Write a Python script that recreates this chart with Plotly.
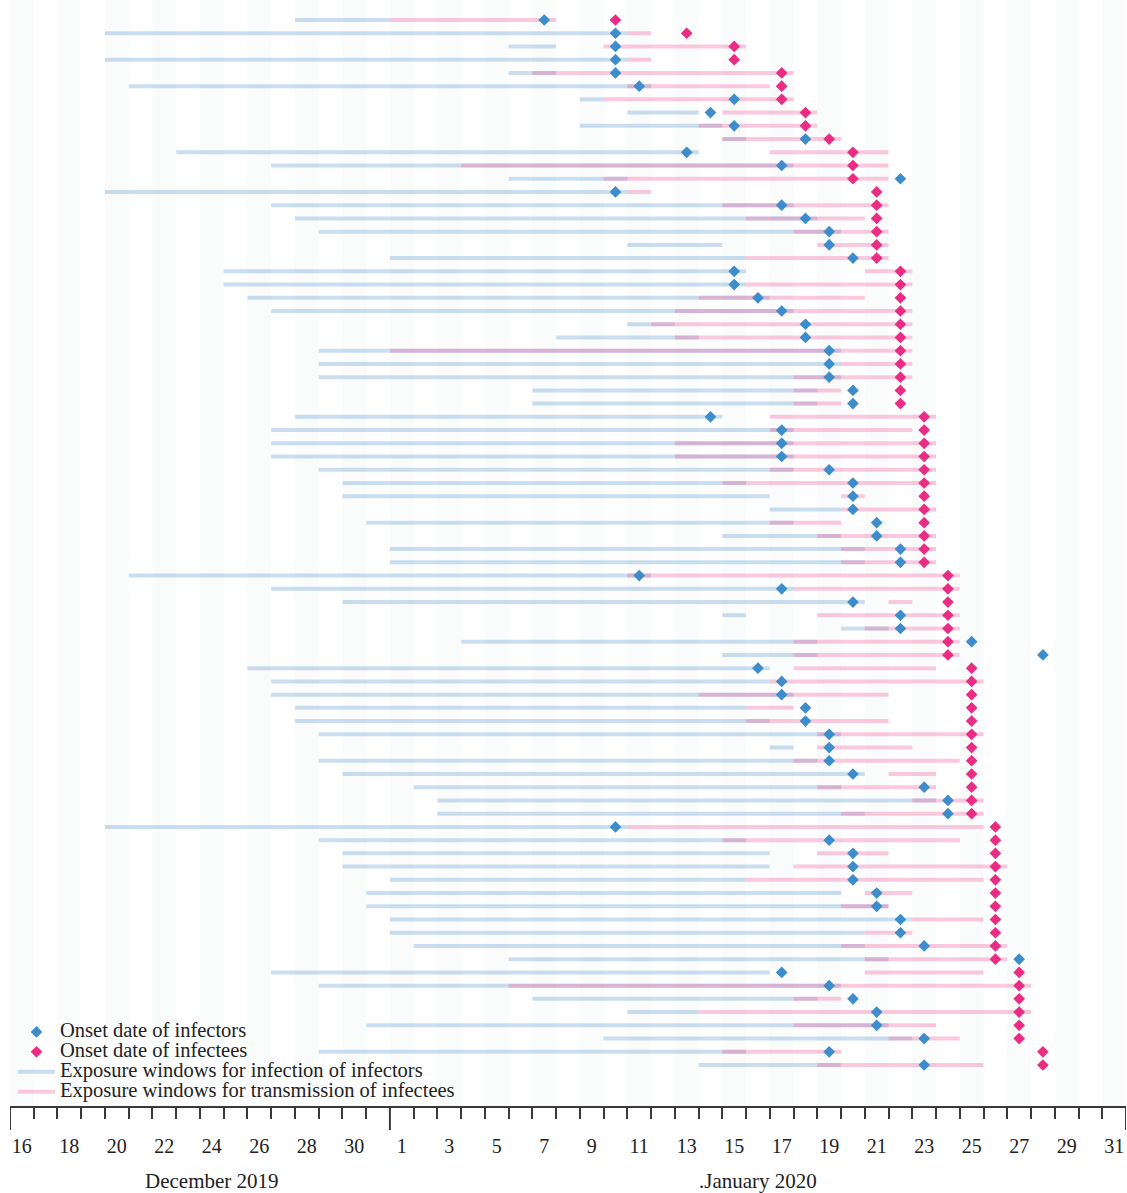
import pandas as pd
import plotly.graph_objects as go

# ---------------- data (month-day; December = 2019, January = 2020) ----------------
infector_exposure_start = [
    "12-28", "12-20", "01-06", "12-20", "01-06", "12-21", "01-09", "01-11", "01-09", "01-15",
    "12-23", "12-27", "01-06", "12-20", "12-27", "12-28", "12-29", "01-11", "01-01", "12-25",
    "12-25", "12-26", "12-27", "01-11", "01-08", "12-29", "12-29", "12-29", "01-07", "01-07",
    "12-28", "12-27", "12-27", "12-27", "12-29", "12-30", "12-30", "01-17", "12-31", "01-15",
    "01-01", "01-01", "12-21", "12-27", "12-30", "01-15", "01-20", "01-04", "01-15", "12-26",
    "12-27", "12-27", "12-28", "12-28", "12-29", "01-17", "12-29", "12-30", "01-02", "01-03",
    "01-03", "12-20", "12-29", "12-30", "12-30", "01-01", "12-31", "12-31", "01-01", "01-01",
    "01-02", "01-06", "12-27", "12-29", "01-07", "01-11", "12-31", "01-10", "12-29", "01-14",
]
infector_exposure_end = [
    "12-31", "01-10", "01-07", "01-10", "01-07", "01-11", "01-09", "01-13", "01-14", "01-15",
    "01-13", "01-17", "01-10", "01-10", "01-17", "01-18", "01-19", "01-14", "01-15", "01-15",
    "01-15", "01-16", "01-17", "01-12", "01-13", "01-19", "01-19", "01-19", "01-18", "01-18",
    "01-14", "01-17", "01-17", "01-17", "01-17", "01-15", "01-16", "01-19", "01-17", "01-19",
    "01-20", "01-20", "01-11", "01-17", "01-20", "01-15", "01-21", "01-18", "01-18", "01-16",
    "01-16", "01-17", "01-15", "01-16", "01-19", "01-17", "01-18", "01-20", "01-19", "01-23",
    "01-20", "01-10", "01-15", "01-16", "01-16", "01-15", "01-19", "01-21", "01-22", "01-20",
    "01-20", "01-21", "01-16", "01-19", "01-18", "01-13", "01-21", "01-22", "01-15", "01-19",
]
transmission_start = [
    "01-01", "01-11", "01-10", "01-11", "01-07", "01-11", "01-10", "01-15", "01-14", "01-15",
    "01-17", "01-04", "01-10", "01-11", "01-15", "01-16", "01-18", "01-19", "01-16", "01-21",
    "01-16", "01-14", "01-13", "01-12", "01-13", "01-01", "01-20", "01-18", "01-18", "01-18",
    "01-17", "01-17", "01-13", "01-13", "01-17", "01-15", "01-20", "01-20", "01-17", "01-19",
    "01-20", "01-20", "01-11", "01-18", "01-22", "01-19", "01-21", "01-18", "01-18", "01-18",
    "01-17", "01-14", "01-16", "01-16", "01-19", "01-19", "01-18", "01-22", "01-19", "01-23",
    "01-20", "01-11", "01-15", "01-19", "01-18", "01-16", "01-21", "01-20", "01-23", "01-21",
    "01-20", "01-21", "01-21", "01-06", "01-18", "01-14", "01-18", "01-22", "01-15", "01-19",
]
transmission_end = [
    "01-07", "01-11", "01-15", "01-11", "01-17", "01-16", "01-17", "01-18", "01-18", "01-19",
    "01-21", "01-21", "01-21", "01-11", "01-21", "01-20", "01-21", "01-21", "01-21", "01-22",
    "01-22", "01-20", "01-22", "01-22", "01-22", "01-22", "01-22", "01-22", "01-19", "01-19",
    "01-23", "01-22", "01-23", "01-23", "01-23", "01-23", "01-20", "01-23", "01-19", "01-23",
    "01-23", "01-23", "01-24", "01-24", "01-22", "01-24", "01-24", "01-24", "01-24", "01-23",
    "01-25", "01-21", "01-17", "01-21", "01-25", "01-22", "01-24", "01-23", "01-23", "01-25",
    "01-25", "01-25", "01-24", "01-21", "01-26", "01-25", "01-22", "01-21", "01-25", "01-22",
    "01-26", "01-26", "01-25", "01-27", "01-19", "01-27", "01-23", "01-24", "01-19", "01-25",
]
infector_onset = [
    "01-07", "01-10", "01-10", "01-10", "01-10", "01-11", "01-15", "01-14", "01-15", "01-18",
    "01-13", "01-17", "01-22", "01-10", "01-17", "01-18", "01-19", "01-19", "01-20", "01-15",
    "01-15", "01-16", "01-17", "01-18", "01-18", "01-19", "01-19", "01-19", "01-20", "01-20",
    "01-14", "01-17", "01-17", "01-17", "01-19", "01-20", "01-20", "01-20", "01-21", "01-21",
    "01-22", "01-22", "01-11", "01-17", "01-20", "01-22", "01-22", "01-25", "01-28", "01-16",
    "01-17", "01-17", "01-18", "01-18", "01-19", "01-19", "01-19", "01-20", "01-23", "01-24",
    "01-24", "01-10", "01-19", "01-20", "01-20", "01-20", "01-21", "01-21", "01-22", "01-22",
    "01-23", "01-27", "01-17", "01-19", "01-20", "01-21", "01-21", "01-23", "01-19", "01-23",
]
infectee_onset = [
    "01-10", "01-13", "01-15", "01-15", "01-17", "01-17", "01-17", "01-18", "01-18", "01-19",
    "01-20", "01-20", "01-20", "01-21", "01-21", "01-21", "01-21", "01-21", "01-21", "01-22",
    "01-22", "01-22", "01-22", "01-22", "01-22", "01-22", "01-22", "01-22", "01-22", "01-22",
    "01-23", "01-23", "01-23", "01-23", "01-23", "01-23", "01-23", "01-23", "01-23", "01-23",
    "01-23", "01-23", "01-24", "01-24", "01-24", "01-24", "01-24", "01-24", "01-24", "01-25",
    "01-25", "01-25", "01-25", "01-25", "01-25", "01-25", "01-25", "01-25", "01-25", "01-25",
    "01-25", "01-26", "01-26", "01-26", "01-26", "01-26", "01-26", "01-26", "01-26", "01-26",
    "01-26", "01-26", "01-27", "01-27", "01-27", "01-27", "01-27", "01-27", "01-28", "01-28",
]

tick_dates = ["12-16", "12-18", "12-20", "12-22", "12-24", "12-26", "12-28", "12-30",
              "01-01", "01-03", "01-05", "01-07", "01-09", "01-11", "01-13", "01-15",
              "01-17", "01-19", "01-21", "01-23", "01-25", "01-27", "01-29", "01-31"]
tick_labels = ["16", "18", "20", "22", "24", "26", "28", "30",
               "1", "3", "5", "7", "9", "11", "13", "15",
               "17", "19", "21", "23", "25", "27", "29", "31"]
month_labels = ["December 2019", ".January 2020"]
month_label_dates = ["12-24", "01-16"]
axis_first, axis_last = "12-16", "01-31"

# ---------------- helpers ----------------
REF = pd.Timestamp("2019-12-31")


def to_day(md):
    m, d = md.split("-")
    year = 2019 if m == "12" else 2020
    return (pd.Timestamp(year=year, month=int(m), day=int(d)) - REF).days


rows = list(range(1, len(infector_onset) + 1))


def segments(starts, ends):
    xs, ys = [], []
    for r, s, e in zip(rows, starts, ends):
        xs += [to_day(s) - 0.5, to_day(e) + 0.5, None]
        ys += [r, r, None]
    return xs, ys


def big(t):
    return '<span style="font-size:20.5px">' + t + "</span>"


FONT = "Liberation Serif"
BLUE_LINE = "rgba(120,175,220,0.40)"
PINK_LINE = "rgba(240,100,160,0.35)"
BLUE_MK = "#3d8dcd"
PINK_MK = "#ea2d82"

fig = go.Figure()

bx, by = segments(infector_exposure_start, infector_exposure_end)
px_, py_ = segments(transmission_start, transmission_end)

fig.add_trace(go.Scatter(x=bx, y=by, mode="lines", line=dict(color=BLUE_LINE, width=4),
                         name=big("Exposure windows for infection of infectors"), legendrank=3,
                         hoverinfo="skip"))
fig.add_trace(go.Scatter(x=px_, y=py_, mode="lines", line=dict(color=PINK_LINE, width=4),
                         name=big("Exposure windows for transmission of infectees"), legendrank=4,
                         hoverinfo="skip"))
fig.add_trace(go.Scatter(x=[to_day(d) for d in infectee_onset], y=rows, mode="markers",
                         marker=dict(symbol="diamond", size=9, color=PINK_MK, line=dict(width=0)),
                         name=big("Onset date of infectees"), legendrank=2))
fig.add_trace(go.Scatter(x=[to_day(d) for d in infector_onset], y=rows, mode="markers",
                         marker=dict(symbol="diamond", size=9, color=BLUE_MK, line=dict(width=0)),
                         name=big("Onset date of infectors"), legendrank=1))

lo, hi = to_day(axis_first) - 0.5, to_day(axis_last) + 0.5

# faint alternating day bands
shapes = []
for d in tick_dates:
    x = to_day(d)
    shapes.append(dict(type="rect", xref="x", yref="paper", x0=x - 0.5, x1=x + 0.5,
                       y0=0, y1=1.006, fillcolor="#fafbfb", line=dict(width=0), layer="below"))
# long ticks at the ends and at the month change
for x in [lo, to_day("01-01") - 0.5, hi]:
    shapes.append(dict(type="line", xref="x", yref="paper", x0=x, x1=x, y0=0, y1=-24 / 1100,
                       line=dict(color="#3a3a3a", width=2)))

minor_vals = [v + 0.5 for v in range(int(lo - 0.5) + 1, int(hi + 0.5))]
minor_vals = [v for v in minor_vals if abs(v - (to_day("01-01") - 0.5)) > 0.01 and lo < v < hi]

annotations = [dict(text=t, x=to_day(d), y=(1106 - 1181) / 1100, xref="x", yref="paper",
                    yanchor="middle", showarrow=False,
                    font=dict(family=FONT, size=21, color="#222"))
               for t, d in zip(month_labels, month_label_dates)]

fig.update_layout(
    width=1127, height=1193,
    margin=dict(l=10, r=1, t=6, b=87),
    paper_bgcolor="white", plot_bgcolor="white",
    shapes=shapes, annotations=annotations,
    showlegend=True,
    legend=dict(x=0.0027, y=0.0809, xanchor="left", yanchor="top",
                font=dict(family=FONT, size=13, color="#222"),
                bgcolor="rgba(0,0,0,0)", tracegroupgap=0, itemwidth=37),
    xaxis=dict(range=[lo, hi], showgrid=False, zeroline=False,
               showline=True, linecolor="#3a3a3a", linewidth=2,
               tickmode="array", tickvals=[to_day(d) for d in tick_dates], ticktext=tick_labels,
               ticks="outside", ticklen=21, tickcolor="rgba(0,0,0,0)",
               tickfont=dict(family=FONT, size=20, color="#222"),
               minor=dict(tickmode="array", tickvals=minor_vals, ticks="outside",
                          ticklen=11, tickwidth=2, tickcolor="#3a3a3a", showgrid=False)),
    yaxis=dict(range=[1 + (1106 - 20) / 13.228, 1 - (20 - 6) / 13.228],
               showgrid=False, zeroline=False, showticklabels=False, showline=False),
)

fig.write_html("out.html", config={"displayModeBar": False},
               post_script="document.body.style.margin='0';document.body.style.overflow='hidden';")
